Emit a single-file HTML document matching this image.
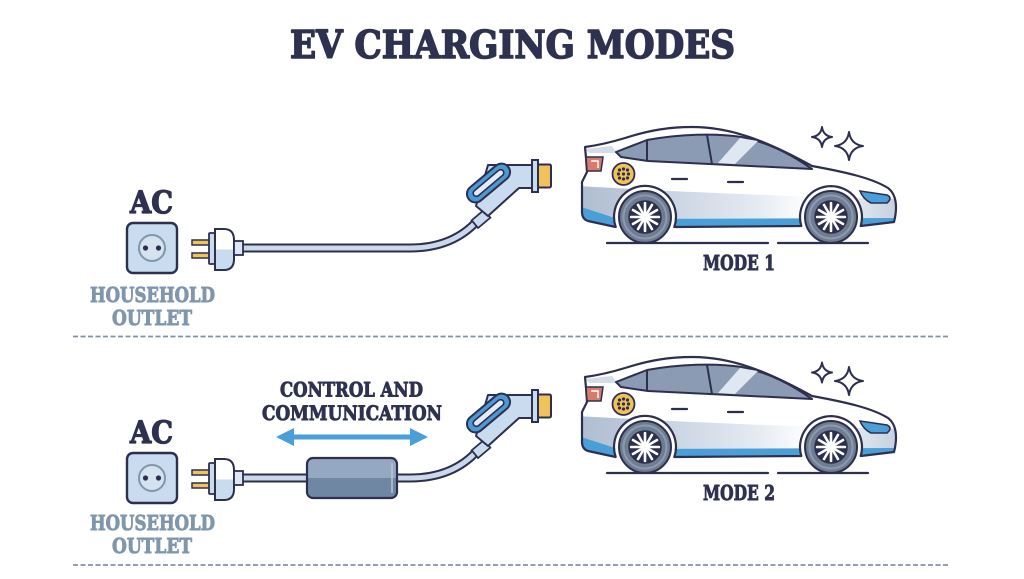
<!DOCTYPE html>
<html><head><meta charset="utf-8"><style>
html,body{margin:0;padding:0;background:#fff;}
svg{display:block;}
text{font-family:"DejaVu Serif","Liberation Serif",serif;font-weight:bold;stroke-linejoin:round;}
</style></head><body>
<svg width="1024" height="579" viewBox="0 0 1024 579" xmlns="http://www.w3.org/2000/svg">
<defs>
  <linearGradient id="lowGrad" x1="0" y1="0" x2="1" y2="0">
    <stop offset="0" stop-color="#aebcd0"/>
    <stop offset="0.55" stop-color="#e4eaf2"/>
    <stop offset="0.72" stop-color="#ffffff"/>
    <stop offset="0.88" stop-color="#dde4ee"/>
    <stop offset="1" stop-color="#c3cedd"/>
  </linearGradient>
  <linearGradient id="plugGrad" x1="0" y1="0" x2="0" y2="1">
    <stop offset="0" stop-color="#ffffff"/>
    <stop offset="0.5" stop-color="#ffffff"/>
    <stop offset="0.5" stop-color="#c8dbef"/>
    <stop offset="1" stop-color="#c8dbef"/>
  </linearGradient>
  <linearGradient id="boxGrad" x1="0" y1="0" x2="0" y2="1">
    <stop offset="0" stop-color="#95a8c1"/>
    <stop offset="0.5" stop-color="#95a8c1"/>
    <stop offset="0.5" stop-color="#7087a4"/>
    <stop offset="1" stop-color="#7087a4"/>
  </linearGradient>
  <clipPath id="bodyClip">
    <path d="M585,147 C600,145 612,142 625,138 C650,130 670,127 692,127 C730,127 765,140 812,166 C845,172 872,178 888,188 C896,194 898,206 894,222 L860.7,226 A31,31 0 1 0 801.3,226 L674.3,227 A31,31 0 1 0 615.7,227 L588,221 Q582,219 582,212 L582,182 L587,172 L586,158 Z"/>
  </clipPath>

  <g id="wheel">
    <circle r="26" fill="#6e7d92" stroke="#2d2f4e" stroke-width="2"/>
    <circle r="21.5" fill="none" stroke="#8c9aad" stroke-width="2"/>
    <circle r="16" fill="#2d2f4e"/>
    <g stroke="#fff" stroke-width="2.6" stroke-linecap="round">
      <line x1="0" y1="-3" x2="0" y2="-14"/>
      <line x1="0" y1="3" x2="0" y2="14"/>
      <line x1="-3" y1="0" x2="-14" y2="0"/>
      <line x1="3" y1="0" x2="14" y2="0"/>
      <line x1="1.5" y1="-2.6" x2="7" y2="-12.1"/>
      <line x1="-1.5" y1="-2.6" x2="-7" y2="-12.1"/>
      <line x1="1.5" y1="2.6" x2="7" y2="12.1"/>
      <line x1="-1.5" y1="2.6" x2="-7" y2="12.1"/>
      <line x1="2.6" y1="-1.5" x2="12.1" y2="-7"/>
      <line x1="-2.6" y1="-1.5" x2="-12.1" y2="-7"/>
      <line x1="2.6" y1="1.5" x2="12.1" y2="7"/>
      <line x1="-2.6" y1="1.5" x2="-12.1" y2="7"/>
    </g>
    <circle r="4" fill="#fff"/>
    <circle r="16" fill="none" stroke="#2d2f4e" stroke-width="1.5"/>
  </g>

  <g id="car">
    <path d="M585,147 C600,145 612,142 625,138 C650,130 670,127 692,127 C730,127 765,140 812,166 C845,172 872,178 888,188 C896,194 898,206 894,222 L860.7,226 A31,31 0 1 0 801.3,226 L674.3,227 A31,31 0 1 0 615.7,227 L588,221 Q582,219 582,212 L582,182 L587,172 L586,158 Z" fill="#fff"/>
    <g clip-path="url(#bodyClip)">
      <path d="M578,186 C650,190 760,196 900,199 L900,230 L578,230 Z" fill="url(#lowGrad)"/>
      <path d="M578,206 L618,219 L900,218 L900,240 L578,240 Z" fill="#4a9fd8"/>
      <path d="M584,149 L612,146 L617,153 L590,153 Z" fill="#d3dde9"/>
    </g>
    <path d="M616,152 L647,140 C680,134 715,133 742,137 C770,143 792,155 812,169 L648,161 L621,157 Z" fill="#8a9bb3" stroke="#2d2f4e" stroke-width="2" stroke-linejoin="round"/>
    <path d="M718,163 L740,138 L758,141 L735,164 Z" fill="#dfe7f0"/>
    <path d="M647,140 L647,161 M707,135 L712,164" stroke="#2d2f4e" stroke-width="2" fill="none"/>
    <path d="M585,147 C600,145 612,142 625,138 C650,130 670,127 692,127 C730,127 765,140 812,166 C845,172 872,178 888,188 C896,194 898,206 894,222 L860.7,226 A31,31 0 1 0 801.3,226 L674.3,227 A31,31 0 1 0 615.7,227 L588,221 Q582,219 582,212 L582,182 L587,172 L586,158 Z" fill="none" stroke="#2d2f4e" stroke-width="2.2" stroke-linejoin="round"/>
    <path d="M586,157 L603,157 L601,171 L587,171 Z" fill="#d97a6b" stroke="#2d2f4e" stroke-width="1.5"/>
    <path d="M591,161 L598,161 L598,168" fill="none" stroke="#fff" stroke-width="1.5"/>
    <circle cx="623.5" cy="174" r="11" fill="#f2c25a" stroke="#2d2f4e" stroke-width="1.8"/>
    <g fill="#2d2f4e">
      <circle cx="619.5" cy="170" r="1.6"/><circle cx="623.5" cy="169" r="1.6"/><circle cx="627.5" cy="170" r="1.6"/>
      <circle cx="618.5" cy="174" r="1.6"/><circle cx="623.5" cy="174" r="1.6"/><circle cx="628.5" cy="174" r="1.6"/>
      <circle cx="619.5" cy="178" r="1.6"/><circle cx="623.5" cy="179" r="1.6"/><circle cx="627.5" cy="178" r="1.6"/>
    </g>
    <path d="M672,179 L687,179 M728,182 L743,182" stroke="#2d2f4e" stroke-width="2.2" stroke-linecap="round"/>
    <path d="M860,191 L887,195 Q893,198 887,203 L871,203 Q863,199 860,191 Z" fill="#4a9fd8" stroke="#2d2f4e" stroke-width="1.6"/>
    <use href="#wheel" x="645" y="217"/>
    <use href="#wheel" x="831" y="217"/>
    <path d="M607,243 L768,243 M778,243 L868,243" stroke="#2d2f4e" stroke-width="2.2" stroke-linecap="round"/>
  </g>

  <g id="outletPlug">
    <rect x="127" y="223" width="50" height="50" rx="6" fill="#c8dbef" stroke="#2d2f4e" stroke-width="2.4"/>
    <circle cx="152" cy="248" r="13" fill="#d5e3f1" stroke="#8196ab" stroke-width="2"/>
    <circle cx="145.5" cy="248" r="2.6" fill="#2d2f4e"/>
    <circle cx="158.5" cy="248" r="2.6" fill="#2d2f4e"/>
    <rect x="192" y="240" width="18" height="5" fill="#f2c25a" stroke="#2d2f4e" stroke-width="1.5"/>
    <rect x="192" y="253" width="18" height="5" fill="#f2c25a" stroke="#2d2f4e" stroke-width="1.5"/>
    <rect x="209" y="233" width="6" height="31" rx="1" fill="#c8dbef" stroke="#2d2f4e" stroke-width="1.8"/>
    <path d="M215,229 L224,229 Q234,229 234,240 L234,259 Q234,270 224,270 L215,270 Z" fill="url(#plugGrad)" stroke="#2d2f4e" stroke-width="2"/>
    <rect x="234" y="241" width="9" height="14" fill="#dde8f4" stroke="#2d2f4e" stroke-width="1.8"/>
  </g>

  <g id="handle">
    <rect x="-8" y="-5" width="16" height="10" transform="translate(481,219) rotate(-40)" fill="#c8dbef" stroke="#2d2f4e" stroke-width="1.8"/>
    <path d="M488,165 L532,165 L532,188 L519,188 L488,216 L476,206 Z" fill="#c8dbef" stroke="#2d2f4e" stroke-width="2" stroke-linejoin="round"/>
    <g transform="translate(488.5,183) rotate(-40)">
      <rect x="-25.5" y="-8.5" width="51" height="17" rx="8.5" fill="#4b9ad5" stroke="#2d2f4e" stroke-width="2"/>
      <rect x="-19" y="-3.2" width="38" height="6.4" rx="3.2" fill="#e3ecf6" stroke="#2d2f4e" stroke-width="1.6"/>
    </g>
    <rect x="538" y="164.5" width="13" height="23" rx="1.5" fill="#f2c25a" stroke="#2d2f4e" stroke-width="2"/>
    <rect x="532" y="160" width="6" height="32" fill="#c8dbef" stroke="#2d2f4e" stroke-width="2"/>
  </g>
</defs>

<!-- Title -->
<text x="290" y="58" font-size="38" fill="#2e3150" stroke="#2e3150" stroke-width="1.6" textLength="445" lengthAdjust="spacingAndGlyphs">EV CHARGING MODES</text>

<!-- ===== MODE 1 ===== -->
<path d="M240,248 L410,248 C440,248 462,238 478,220" fill="none" stroke="#2d2f4e" stroke-width="9"/>
<path d="M240,248 L410,248 C440,248 462,238 478,220" fill="none" stroke="#cad9ea" stroke-width="5"/>
<use href="#outletPlug"/>
<use href="#handle"/>
<text x="130" y="213" font-size="31" fill="#2e3150" stroke="#2e3150" stroke-width="1.3" textLength="43" lengthAdjust="spacingAndGlyphs">AC</text>
<text x="90" y="302" font-size="20.5" fill="#7f96ad" stroke="#7f96ad" stroke-width="0.9" textLength="125" lengthAdjust="spacingAndGlyphs">HOUSEHOLD</text>
<text x="112" y="325" font-size="20.5" fill="#7f96ad" stroke="#7f96ad" stroke-width="0.9" textLength="80" lengthAdjust="spacingAndGlyphs">OUTLET</text>
<use href="#car"/>
<text x="703" y="270" font-size="20.5" fill="#2e3150" stroke="#2e3150" stroke-width="0.9" textLength="72" lengthAdjust="spacingAndGlyphs">MODE 1</text>
<path d="M822,127 Q823.2,135.8 832,137 Q823.2,138.2 822,147 Q820.8,138.2 812,137 Q820.8,135.8 822,127 Z" fill="#fff" stroke="#2d2f4e" stroke-width="2" stroke-linejoin="round"/>
<path d="M849,132 Q850.7,144.3 863,146 Q850.7,147.7 849,160 Q847.3,147.7 835,146 Q847.3,144.3 849,132 Z" fill="#fff" stroke="#2d2f4e" stroke-width="2" stroke-linejoin="round"/>

<line x1="73" y1="336.5" x2="950" y2="336.5" stroke="#7f93a8" stroke-width="1.8" stroke-dasharray="5,2.5"/>

<!-- ===== MODE 2 ===== -->
<g transform="translate(0,230)">
  <path d="M240,248 L410,248 C440,248 462,238 478,220" fill="none" stroke="#2d2f4e" stroke-width="9"/>
  <path d="M240,248 L410,248 C440,248 462,238 478,220" fill="none" stroke="#cad9ea" stroke-width="5"/>
  <use href="#outletPlug"/>
  <use href="#handle"/>
  <text x="130" y="213" font-size="31" fill="#2e3150" stroke="#2e3150" stroke-width="1.3" textLength="43" lengthAdjust="spacingAndGlyphs">AC</text>
  <text x="90" y="300" font-size="20.5" fill="#7f96ad" stroke="#7f96ad" stroke-width="0.9" textLength="125" lengthAdjust="spacingAndGlyphs">HOUSEHOLD</text>
  <text x="112" y="323" font-size="20.5" fill="#7f96ad" stroke="#7f96ad" stroke-width="0.9" textLength="80" lengthAdjust="spacingAndGlyphs">OUTLET</text>
  <use href="#car"/>
  <text x="703" y="270" font-size="20.5" fill="#2e3150" stroke="#2e3150" stroke-width="0.9" textLength="72" lengthAdjust="spacingAndGlyphs">MODE 2</text>
</g>
<rect x="307" y="458" width="90" height="40" rx="6" fill="url(#boxGrad)" stroke="#2d2f4e" stroke-width="2.2"/>
<path d="M392,463 L392,493" stroke="#b8c6d8" stroke-width="1.5"/>
<path d="M276,437 L294,428 L294,434.5 L410,434.5 L410,428 L428,437 L410,446 L410,439.5 L294,439.5 L294,446 Z" fill="#4a9fd8"/>
<text x="280" y="396.5" font-size="19.5" fill="#2e3150" stroke="#2e3150" stroke-width="0.9" textLength="143" lengthAdjust="spacingAndGlyphs">CONTROL AND</text>
<text x="262" y="420" font-size="19.5" fill="#2e3150" stroke="#2e3150" stroke-width="0.9" textLength="180" lengthAdjust="spacingAndGlyphs">COMMUNICATION</text>
<path d="M822,362.5 Q823.2,371.3 832,372.5 Q823.2,373.7 822,382.5 Q820.8,373.7 812,372.5 Q820.8,371.3 822,362.5 Z" fill="#fff" stroke="#2d2f4e" stroke-width="2" stroke-linejoin="round"/>
<path d="M849,367 Q850.7,379.3 863,381 Q850.7,382.7 849,395 Q847.3,382.7 835,381 Q847.3,379.3 849,367 Z" fill="#fff" stroke="#2d2f4e" stroke-width="2" stroke-linejoin="round"/>

<line x1="73" y1="565" x2="950" y2="565" stroke="#7f93a8" stroke-width="1.8" stroke-dasharray="5,2.5"/>
</svg>
</body></html>
